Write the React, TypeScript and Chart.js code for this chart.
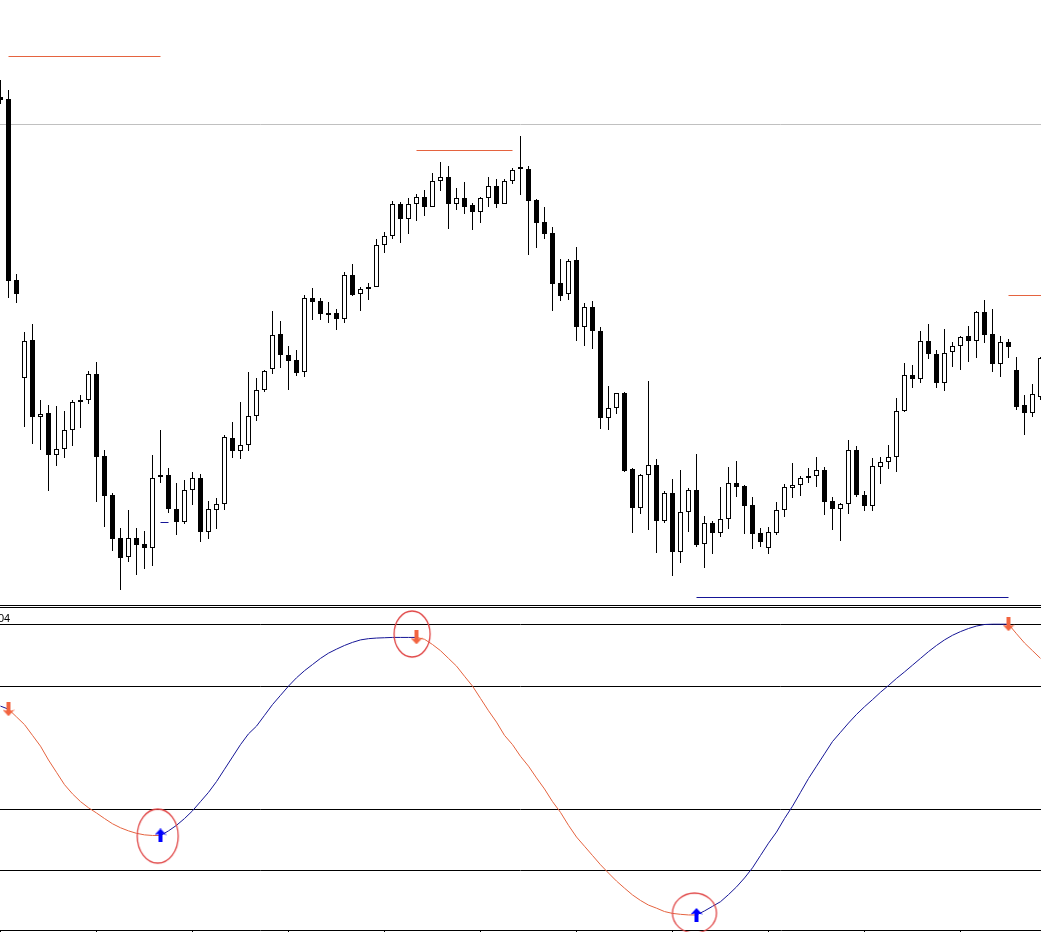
import React, { useEffect, useRef } from 'react';
import { Chart, registerables } from 'chart.js';
Chart.register(...registerables);

// ---- price pane data (price in points) ----
const opens = [
  903, 901, 720, 622, 660, 583, 587, 545, 551, 570,
  598, 600, 626, 544, 505, 462, 443, 462, 456, 452,
  523, 525, 491, 478, 510, 522, 468, 490, 496, 562,
  549, 555, 584, 610, 631, 666, 645, 640, 628, 702,
  699, 686, 687, 681, 725, 706, 711, 713, 755, 764,
  796, 781, 796, 803, 793, 819, 823, 796, 802, 795,
  788, 802, 814, 796, 819, 833, 831, 800, 778, 767,
  717, 706, 740, 673, 693, 669, 582, 592, 607, 531,
  492, 525, 535, 479, 507, 448, 488, 510, 456, 477,
  467, 481, 517, 514, 495, 467, 452, 467, 490, 512,
  515, 522, 524, 530, 499, 491, 496, 550, 505, 494,
  533, 538, 543, 589, 625, 621, 659, 646, 617, 648,
  654, 664, 659, 688, 666, 636, 658, 630, 595, 587,
  603,
];
const closes = [
  900, 719, 706, 659, 583, 586, 545, 551, 570, 598,
  600, 626, 543, 504, 461, 442, 462, 455, 452, 522,
  525, 491, 478, 510, 522, 468, 491, 496, 563, 549,
  555, 584, 610, 629, 665, 645, 639, 627, 702, 698,
  686, 685, 681, 725, 705, 711, 713, 755, 764, 796,
  781, 796, 803, 793, 819, 823, 796, 802, 793, 788,
  802, 814, 796, 819, 830, 831, 799, 777, 766, 716,
  704, 739, 673, 693, 669, 582, 592, 607, 529, 492,
  525, 535, 479, 507, 448, 488, 510, 455, 477, 467,
  481, 517, 513, 494, 466, 458, 468, 490, 513, 515,
  522, 524, 530, 498, 491, 496, 550, 505, 494, 534,
  538, 543, 589, 625, 621, 659, 646, 617, 647, 654,
  663, 659, 688, 665, 636, 658, 653, 593, 587, 606,
  642,
];
const highs = [
  920, 910, 726, 668, 676, 600, 595, 594, 589, 600,
  605, 629, 638, 550, 507, 472, 490, 472, 469, 545,
  570, 532, 517, 520, 528, 526, 499, 502, 565, 578,
  598, 628, 622, 630, 689, 679, 654, 650, 705, 712,
  702, 698, 691, 728, 736, 713, 717, 761, 768, 799,
  798, 802, 806, 810, 827, 838, 834, 812, 818, 797,
  803, 823, 821, 821, 832, 864, 834, 801, 793, 773,
  741, 741, 753, 697, 699, 673, 614, 607, 608, 532,
  526, 619, 541, 509, 521, 530, 512, 546, 484, 479,
  513, 533, 539, 515, 503, 472, 473, 498, 516, 537,
  524, 532, 543, 533, 503, 497, 560, 554, 509, 542,
  543, 555, 602, 637, 635, 669, 676, 650, 671, 658,
  664, 674, 689, 700, 691, 664, 661, 643, 605, 616,
  643,
];
const lows = [
  896, 702, 697, 573, 556, 550, 509, 534, 542, 554,
  572, 596, 498, 473, 449, 410, 438, 425, 431, 434,
  517, 487, 465, 476, 495, 458, 461, 471, 490, 542,
  541, 549, 579, 608, 626, 632, 610, 624, 623, 680,
  680, 677, 670, 677, 704, 689, 700, 713, 747, 761,
  757, 766, 779, 784, 793, 809, 771, 790, 786, 770,
  777, 793, 792, 796, 816, 805, 745, 752, 761, 689,
  699, 700, 659, 654, 651, 571, 570, 586, 528, 467,
  486, 470, 447, 477, 424, 437, 468, 453, 432, 446,
  463, 471, 503, 466, 451, 453, 446, 465, 483, 502,
  504, 517, 513, 485, 470, 459, 486, 503, 489, 489,
  516, 531, 528, 588, 612, 617, 641, 612, 609, 633,
  630, 638, 642, 657, 628, 623, 642, 590, 565, 583,
  600,
];

// marker lines on the price pane (bar index from/to, price)
const redLineStart = [1, 52, 126];
const redLineEnd = [20, 64, 131];
const redLinePrice = [943.5, 849.5, 704.5];
const blueLineStart = [20, 87];
const blueLineEnd = [21, 126];
const blueLinePrice = [477.5, 402.5];
const greyLevelPrice = 875.5;

// ---- oscillator pane data ----
const oscillator = [
  73.5, 72.5, 70, 67.5, 64, 60.5, 56, 52, 48, 45,
  42.5, 40.5, 38.8, 37, 35.3, 34, 33, 32.2, 31.7, 31.5,
  31.5, 33, 34.8, 37, 39.5, 42.5, 45.5, 49, 53, 57,
  61, 64.5, 67, 70.5, 74, 77, 80, 82.7, 85, 87,
  89, 90.7, 92, 93.2, 94.2, 95, 95.4, 95.6, 95.7, 95.8,
  95.8, 95.8, 95.8, 95.2, 93.5, 91.5, 89, 86.5, 83.2, 80,
  76, 72, 68.3, 64, 61, 57.2, 54, 50.2, 46.6, 42.5,
  39, 34.8, 31, 28, 25, 22, 19.3, 16.7, 14.4, 12.2,
  10.4, 8.9, 7.9, 6.8, 6.2, 5.9, 5.7, 5.7, 7, 8.5,
  10, 12.3, 14.8, 17.7, 21, 25, 29, 32.6, 37, 41,
  45.5, 50, 54, 58, 62, 65, 68, 70.8, 73.3, 75.6,
  78, 80.2, 82.5, 84.6, 86.8, 89, 91.2, 93.2, 95, 96.5,
  97.7, 98.7, 99.5, 100, 100.1, 100.1, 100.1, 97, 94, 91.5,
  89,
];
const downArrowBars = [1, 52, 126];
const upArrowBars = [20, 87];
const levels = [20, 40, 80, 100];
const timeTicks = [0, 12, 24, 36, 48, 60, 72, 84, 96, 108, 120];
const circledX = [19.65, 51.45, 86.75];
const circledY = [31.3, 96.9, 6.3];

// ---- view settings ----
const X_MIN = -0.0625;
const X_MAX = 130.0625;
const RED = '#E5633F';
const BLUE = '#151596';
const ARROW_RED = '#F26440';
const ARROW_BLUE = '#0000FF';
const CIRCLE_RED = '#E04545';
const circleRadii: [number, number][] = [[20.5, 27], [18, 23], [22, 20]];

function makeArrow(color: string, up: boolean) {
  const W = 12;
  const H = 14;
  const c = document.createElement('canvas');
  c.width = W;
  c.height = H;
  const g = c.getContext('2d')!;
  const pts = [[6, 0], [12, 6.5], [8, 5.5], [8, 14], [4, 14], [4, 5.5], [0, 6.5]];
  g.fillStyle = color;
  g.beginPath();
  pts.forEach(([x, y], i) => {
    const yy = up ? y : H - y;
    if (i === 0) g.moveTo(x, yy);
    else g.lineTo(x, yy);
  });
  g.closePath();
  g.fill();
  return c;
}

function makeEllipse(rx: number, ry: number) {
  const c = document.createElement('canvas');
  c.width = Math.ceil(rx * 2 + 4);
  c.height = Math.ceil(ry * 2 + 4);
  const g = c.getContext('2d')!;
  g.strokeStyle = CIRCLE_RED;
  g.lineWidth = 1.3;
  g.beginPath();
  g.ellipse(c.width / 2, c.height / 2, rx, ry, 0, 0, Math.PI * 2);
  g.stroke();
  return c;
}

function trendColor(i: number) {
  let last = -1;
  let isDown = false;
  downArrowBars.forEach((k) => { if (k <= i && k > last) { last = k; isDown = true; } });
  upArrowBars.forEach((k) => { if (k <= i && k > last) { last = k; isDown = false; } });
  return isDown ? RED : BLUE;
}

export default function App() {
  const priceRef = useRef<HTMLCanvasElement>(null);
  const oscRef = useRef<HTMLCanvasElement>(null);

  useEffect(() => {
    const idx = opens.map((_, i) => i);
    const segLine = (x0: number, x1: number, y: number, color: string, label: string) => ({
      type: 'line' as const,
      label,
      data: [{ x: x0, y }, { x: x1, y }],
      borderColor: color,
      borderWidth: 1,
      pointRadius: 0,
      fill: false,
      order: 2,
    });

    const priceChart = new Chart(priceRef.current!, {
      type: 'bar',
      data: {
        datasets: [
          {
            type: 'bar',
            label: 'bodies',
            data: idx.map((k) => ({ x: k, y: [opens[k], closes[k]] })) as any,
            backgroundColor: idx.map((k) => (closes[k] < opens[k] ? '#000000' : '#ffffff')),
            borderColor: '#000000',
            borderWidth: 1,
            borderSkipped: false,
            barThickness: 5,
            grouped: false,
            minBarLength: 2,
            inflateAmount: 0,
            order: 0,
          } as any,
          {
            type: 'bar',
            label: 'wicks',
            data: idx.map((k) => ({ x: k, y: [lows[k], highs[k]] })) as any,
            backgroundColor: '#000000',
            borderWidth: 0,
            barThickness: 1,
            grouped: false,
            inflateAmount: 0,
            order: 1,
          } as any,
          segLine(X_MIN, X_MAX, greyLevelPrice, '#C0C0C0', 'level'),
          ...redLineStart.map((s, i) => segLine(s, redLineEnd[i], redLinePrice[i], RED, 'red' + i)),
          ...blueLineStart.map((s, i) => segLine(s, blueLineEnd[i], blueLinePrice[i], BLUE, 'blue' + i)),
        ] as any,
      },
      options: {
        responsive: false,
        maintainAspectRatio: false,
        animation: false,
        devicePixelRatio: 1,
        events: [],
        layout: { padding: 0, autoPadding: false },
        plugins: { legend: { display: false }, tooltip: { enabled: false }, title: { display: false } },
        scales: {
          x: { type: 'linear', min: X_MIN, max: X_MAX, offset: false, display: false },
          y: { type: 'linear', min: 395, max: 1000, display: false },
        },
      },
    });

    const downImg = makeArrow(ARROW_RED, false);
    const upImg = makeArrow(ARROW_BLUE, true);
    const ellipseImgs = circleRadii.map(([rx, ry]) => makeEllipse(rx, ry));

    const oscChart = new Chart(oscRef.current!, {
      type: 'line',
      data: {
        datasets: [
          {
            label: 'circles',
            data: circledX.map((x, i) => ({ x, y: circledY[i] })),
            showLine: false,
            pointStyle: ellipseImgs as any,
            pointRadius: 5,
            clip: false as any,
            order: 0,
          },
          {
            label: 'up',
            data: upArrowBars.map((k) => ({ x: k, y: oscillator[k] })),
            showLine: false,
            pointStyle: upImg as any,
            pointRadius: 5,
            order: 1,
          },
          {
            label: 'down',
            data: downArrowBars.map((k) => ({ x: k, y: oscillator[k] })),
            showLine: false,
            pointStyle: downImg as any,
            pointRadius: 5,
            order: 1,
          },
          {
            label: 'oscillator',
            data: idx.map((k) => ({ x: k, y: oscillator[k] })),
            borderColor: BLUE,
            borderWidth: 1,
            pointRadius: 0,
            tension: 0,
            fill: false,
            segment: { borderColor: (ctx: any) => trendColor(ctx.p0DataIndex) },
            order: 2,
          },
        ] as any,
      },
      options: {
        responsive: false,
        maintainAspectRatio: false,
        animation: false,
        devicePixelRatio: 1,
        events: [],
        layout: { padding: 0, autoPadding: false },
        plugins: { legend: { display: false }, tooltip: { enabled: false }, title: { display: false } },
        scales: {
          x: {
            type: 'linear',
            min: X_MIN,
            max: X_MAX,
            offset: false,
            position: 'bottom',
            grid: { drawOnChartArea: false, drawTicks: true, tickLength: 3, color: '#000000' },
            border: { display: true, color: '#000000', width: 1 },
            ticks: { display: false },
            afterBuildTicks: (s: any) => { s.ticks = timeTicks.map((v) => ({ value: v })); },
          },
          y: {
            type: 'linear',
            min: 0.8117,
            max: 105.357,
            position: 'left',
            grid: { color: '#000000', lineWidth: 1, drawTicks: false, drawOnChartArea: true },
            border: { display: false },
            ticks: { display: false },
            afterBuildTicks: (s: any) => { s.ticks = levels.map((v) => ({ value: v })); },
          },
        },
      },
    });

    return () => {
      priceChart.destroy();
      oscChart.destroy();
    };
  }, []);

  return (
    <div style={{ position: 'absolute', left: 0, top: 0, width: 1041, height: 932, overflow: 'hidden', background: '#ffffff' }}>
      <div style={{ position: 'absolute', left: 0, top: 0, width: 1041, height: 605, borderBottom: '1px solid #000' }}>
        <canvas ref={priceRef} width={1041} height={605} style={{ display: 'block' }} />
      </div>
      <div style={{ position: 'absolute', left: 0, top: 607, width: 1041, height: 1, background: '#000' }} />
      <div style={{ position: 'absolute', left: 0, top: 608, width: 1041, height: 325 }}>
        <canvas ref={oscRef} width={1041} height={325} style={{ display: 'block' }} />
      </div>
      <div style={{ position: 'absolute', left: -2, top: 612, font: '11px "Liberation Sans", Arial, sans-serif', lineHeight: '13px', color: '#000', whiteSpace: 'nowrap' }}>
        04
      </div>
    </div>
  );
}
